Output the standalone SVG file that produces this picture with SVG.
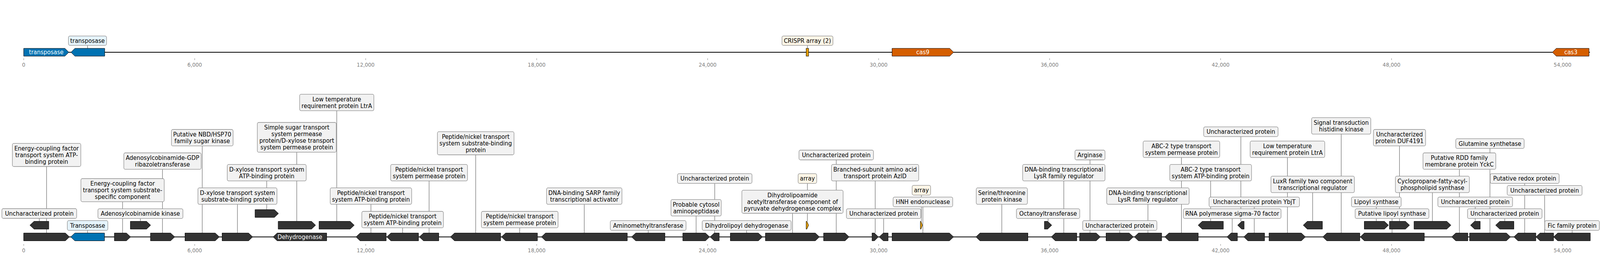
<svg xmlns="http://www.w3.org/2000/svg" width="4277" height="659" viewBox="0 0 4277 659" preserveAspectRatio="none">
<style>
:root{width:100vw;height:100vh;overflow:hidden;display:block}
.bg{fill:#fff}
.gene{fill:#333;stroke:#000;stroke-width:1}
.blue{fill:#0072b2}
.arr{fill:#e69f00}
.cas{fill:#d55e00}
.box{fill:#f2f2f2;stroke:#8c8c8c;stroke-width:1.3}
.bbox{fill:#e6f4fc}
.cbox{fill:#fdf6e7}
text{font-family:"DejaVu Sans","Liberation Sans",sans-serif;font-size:15.2px}
.lt{text-anchor:middle;fill:#000}
.wt{text-anchor:middle;fill:#fff}
.ax{font-size:13.6px;fill:#808080;text-anchor:middle}
.tk{stroke:#808080;stroke-width:1}
.axis{stroke:#000;stroke-width:2;fill:none}
.con path{stroke:#333;stroke-width:0.9;fill:none}
</style>
<rect class="bg" x="0" y="0" width="4277" height="659"/>

<g id="axes">
<path class="axis" d="M63.4,134H4250"/>
<path class="axis" d="M63.3,607.5H4251"/>
<path class="tk" d="M63.4,149.5V154M520.5,149.5V154M977.5,149.5V154M1434.6,149.5V154M1891.6,149.5V154M2348.7,149.5V154M2805.7,149.5V154M3262.8,149.5V154M3719.8,149.5V154M4176.9,149.5V154"/>
<path class="tk" d="M63.4,626V630M520.5,626V630M977.5,626V630M1434.6,626V630M1891.6,626V630M2348.7,626V630M2805.7,626V630M3262.8,626V630M3719.8,626V630M4176.9,626V630"/>
<text class="ax" x="63.4" y="171">0</text><text class="ax" x="520.5" y="171">6,000</text><text class="ax" x="977.5" y="171">12,000</text><text class="ax" x="1434.6" y="171">18,000</text><text class="ax" x="1891.6" y="171">24,000</text><text class="ax" x="2348.7" y="171">30,000</text><text class="ax" x="2805.7" y="171">36,000</text><text class="ax" x="3262.8" y="171">42,000</text><text class="ax" x="3719.8" y="171">48,000</text><text class="ax" x="4176.9" y="171">54,000</text>
<text class="ax" x="63.4" y="647">0</text><text class="ax" x="520.5" y="647">6,000</text><text class="ax" x="977.5" y="647">12,000</text><text class="ax" x="1434.6" y="647">18,000</text><text class="ax" x="1891.6" y="647">24,000</text><text class="ax" x="2348.7" y="647">30,000</text><text class="ax" x="2805.7" y="647">36,000</text><text class="ax" x="3262.8" y="647">42,000</text><text class="ax" x="3719.8" y="647">48,000</text><text class="ax" x="4176.9" y="647">54,000</text>
</g>

<g id="connectors" class="con">
<path d="M234.2,116.3V124M2158.3,116.3V124"/>
<path d="M124.5,427V597.5M105,560V567.5M234.2,590.7V597.5M327.7,517.3V597.5M375.3,560.3V567.5M434.3,434.2V597.5M540.6,374.2V597.5M634.7,523.9V597.5M713,463.9V537.5M793.3,390.5V567.5M900.2,283.9V567.5M991.6,523.9V597.5M1076.3,584.2V597.5M1147,463.9V597.5M1271.6,397V597.5M1389.3,584.2V597.5M1561.8,523.9V597.5M1732.7,590.7V597.5M1860.8,553.9V597.5M1910.6,470.3V597.5M1996,590.7V597.5M2118.5,547V597.5M2158.3,470.3V567.5M2235.4,410V597.5M2339.5,463.9V597.5M2362.1,560.3V597.5M2463,500.3V567.5M2467,530.3V597.5M2678,523.9V597.5M2801.7,560.3V567.5M2843.7,463.9V597.5M2913.7,410V597.5M2993.3,590.7V597.5M3068.6,523.9V597.5M3158.1,403.9V597.5M3236.2,463.9V567.5M3293.8,560.3V597.5M3317,350.3V567.5M3352.8,530.3V597.5M3441.5,403.9V597.5M3508.9,493.9V567.5M3585.2,343.9V597.5M3721.1,560.3V597.5M3679,530.3V567.5M3741,374.2V567.5M3829,493.9V567.5M3901.1,434.2V597.5M3943.4,530.3V567.5M3982.8,380.7V597.5M4022.4,560.3V567.5M4075.7,470.3V597.5M4129,500.7V597.5M4202.5,590.7V597.5"/>
</g>

<g id="top-transposase-1"><polygon class="gene blue" points="63.4,124 173.5,124 184,134 173.5,144 63.4,144"/><text class="wt" x="123.7" y="139.5">transposase</text></g>
<g id="top-transposase-2"><polygon class="gene blue" points="279.9,124 200.2,124 189.7,134 200.2,144 279.9,144"/><rect class="box bbox" x="183" y="92.3" width="101.8" height="24" rx="4"/><text class="lt" x="233.9" y="109.7">transposase</text></g>
<g id="top-crispr"><rect class="gene arr" x="2155" y="124" width="6.5" height="20"/><rect class="box cbox" x="2090.3" y="92.3" width="136.3" height="24" rx="4"/><text class="lt" x="2158.4" y="109.7">CRISPR array (2)</text></g>
<g id="top-cas9"><polygon class="gene cas" points="2384.6,124 2538.7,124 2549.2,134 2538.7,144 2384.6,144"/><text class="wt" x="2466.9" y="139.5">cas9</text></g>
<g id="top-cas3"><polygon class="gene cas" points="4247.7,124 4160.2,124 4149.7,134 4160.2,144 4247.7,144"/><text class="wt" x="4199" y="139.5">cas3</text></g>

<g id="n1"><polygon class="gene" points="63.3,597.5 174.7,597.5 185.7,607.5 174.7,617.5 63.3,617.5"/><rect class="box" x="33" y="367.7" width="183" height="59.3" rx="4"/><text class="lt" x="124.5" y="385.6">Energy-coupling factor<tspan x="124.5" dy="17.15">transport system ATP-</tspan><tspan x="124.5" dy="17.15">binding protein</tspan></text></g>
<g id="n2"><polygon class="gene" points="130.4,567.5 91,567.5 80,577.5 91,587.5 130.4,587.5"/><rect class="box" x="5" y="535" width="200" height="25" rx="4"/><text class="lt" x="105" y="552.9">Uncharacterized protein</text></g>
<g id="n3"><polygon class="gene blue" points="279.3,597.5 200,597.5 189,607.5 200,617.5 279.3,617.5"/><rect class="box bbox" x="180" y="565.7" width="108.3" height="25" rx="4"/><text class="lt" x="234.2" y="583.6">Transposase</text></g>
<g id="n4"><polygon class="gene" points="305.8,597.5 338,597.5 349,607.5 338,617.5 305.8,617.5"/><rect class="box" x="216.3" y="458" width="222.7" height="59.3" rx="4"/><text class="lt" x="327.7" y="475.9">Energy-coupling factor<tspan x="327.7" dy="17.15">transport system substrate-</tspan><tspan x="327.7" dy="17.15">specific component</tspan></text></g>
<g id="n5"><polygon class="gene" points="348.5,567.5 391.7,567.5 402.7,577.5 391.7,587.5 348.5,587.5"/><rect class="box" x="261.7" y="535.3" width="227.3" height="25" rx="4"/><text class="lt" x="375.3" y="553.2">Adenosylcobinamide kinase</text></g>
<g id="n6"><polygon class="gene" points="402.2,597.5 456,597.5 467,607.5 456,617.5 402.2,617.5"/><rect class="box" x="331" y="392" width="206.7" height="42.15" rx="4"/><text class="lt" x="434.3" y="409.9">Adenosylcobinamide-GDP<tspan x="434.3" dy="17.15">ribazoletransferase</tspan></text></g>
<g id="n7"><polygon class="gene" points="494.5,597.5 575.3,597.5 586.3,607.5 575.3,617.5 494.5,617.5"/><rect class="box" x="458.2" y="332" width="164.8" height="42.15" rx="4"/><text class="lt" x="540.6" y="349.9">Putative NBD/HSP70<tspan x="540.6" dy="17.15">family sugar kinase</tspan></text></g>
<g id="n8"><polygon class="gene" points="593.7,597.5 664.4,597.5 675.4,607.5 664.4,617.5 593.7,617.5"/><rect class="box" x="529" y="481.7" width="211.4" height="42.15" rx="4"/><text class="lt" x="634.7" y="499.6">D-xylose transport system<tspan x="634.7" dy="17.15">substrate-binding protein</tspan></text></g>
<g id="n9"><polygon class="gene" points="681.8,537.5 733.5,537.5 744.5,547.5 733.5,557.5 681.8,557.5"/><rect class="box" x="607.4" y="421.7" width="211.1" height="42.15" rx="4"/><text class="lt" x="713" y="439.6">D-xylose transport system<tspan x="713" dy="17.15">ATP-binding protein</tspan></text></g>
<g id="n10"><polygon class="gene" points="743.6,567.5 832.7,567.5 843.7,577.5 832.7,587.5 743.6,587.5"/><rect class="box" x="687.8" y="314" width="211" height="76.45" rx="4"/><text class="lt" x="793.3" y="331.9">Simple sugar transport<tspan x="793.3" dy="17.15">system permease</tspan><tspan x="793.3" dy="17.15">protein/D-xylose transport</tspan><tspan x="793.3" dy="17.15">system permease protein</tspan></text></g>
<g id="n11"><polygon class="gene" points="873.3,597.5 741,597.5 730,607.5 741,617.5 873.3,617.5"/><text class="wt" x="801.7" y="613.1">Dehydrogenase</text></g>
<g id="n12"><polygon class="gene" points="852.9,567.5 936,567.5 947,577.5 936,587.5 852.9,587.5"/><rect class="box" x="801" y="241.7" width="198.4" height="42.15" rx="4"/><text class="lt" x="900.2" y="259.6">Low temperature<tspan x="900.2" dy="17.15">requirement protein LtrA</tspan></text></g>
<g id="n13"><polygon class="gene" points="1032.4,597.5 962.6,597.5 951.6,607.5 962.6,617.5 1032.4,617.5"/><rect class="box" x="882.7" y="481.7" width="217.7" height="42.15" rx="4"/><text class="lt" x="991.6" y="499.6">Peptide/nickel transport<tspan x="991.6" dy="17.15">system ATP-binding protein</tspan></text></g>
<g id="n14"><polygon class="gene" points="1118.7,597.5 1044.8,597.5 1033.8,607.5 1044.8,617.5 1118.7,617.5"/><rect class="box" x="967.2" y="542" width="218.1" height="42.15" rx="4"/><text class="lt" x="1076.3" y="559.9">Peptide/nickel transport<tspan x="1076.3" dy="17.15">system ATP-binding protein</tspan></text></g>
<g id="n15"><polygon class="gene" points="1172.9,597.5 1132,597.5 1121,607.5 1132,617.5 1172.9,617.5"/><rect class="box" x="1044.3" y="421.7" width="205.3" height="42.15" rx="4"/><text class="lt" x="1147" y="439.6">Peptide/nickel transport<tspan x="1147" dy="17.15">system permease protein</tspan></text></g>
<g id="n16"><polygon class="gene" points="1338.2,597.5 1215,597.5 1204,607.5 1215,617.5 1338.2,617.5"/><rect class="box" x="1169.2" y="337.7" width="204.8" height="59.3" rx="4"/><text class="lt" x="1271.6" y="355.6">Peptide/nickel transport<tspan x="1271.6" dy="17.15">system substrate-binding</tspan><tspan x="1271.6" dy="17.15">protein</tspan></text></g>
<g id="n17"><polygon class="gene" points="1436.7,597.5 1351.5,597.5 1340.5,607.5 1351.5,617.5 1436.7,617.5"/><rect class="box" x="1286.8" y="542" width="205" height="42.15" rx="4"/><text class="lt" x="1389.3" y="559.9">Peptide/nickel transport<tspan x="1389.3" dy="17.15">system permease protein</tspan></text></g>
<g id="n18"><polygon class="gene" points="1676.9,597.5 1458.3,597.5 1447.3,607.5 1458.3,617.5 1676.9,617.5"/><rect class="box" x="1461" y="481.7" width="201.6" height="42.15" rx="4"/><text class="lt" x="1561.8" y="499.6">DNA-binding SARP family<tspan x="1561.8" dy="17.15">transcriptional activator</tspan></text></g>
<g id="n19"><polygon class="gene" points="1777.4,597.5 1699.3,597.5 1688.3,607.5 1699.3,617.5 1777.4,617.5"/><rect class="box" x="1631.4" y="565.7" width="202.5" height="25" rx="4"/><text class="lt" x="1732.7" y="583.6">Aminomethyltransferase</text></g>
<g id="n20"><polygon class="gene" points="1825.2,597.5 1885.8,597.5 1896.8,607.5 1885.8,617.5 1825.2,617.5"/><rect class="box" x="1793.5" y="511.7" width="134.5" height="42.15" rx="4"/><text class="lt" x="1860.8" y="529.6">Probable cytosol<tspan x="1860.8" dy="17.15">aminopeptidase</tspan></text></g>
<g id="n21"><polygon class="gene" points="1922.5,597.5 1909.2,597.5 1898.2,607.5 1909.2,617.5 1922.5,617.5"/><rect class="box" x="1811" y="445.3" width="199.2" height="25" rx="4"/><text class="lt" x="1910.6" y="463.2">Uncharacterized protein</text></g>
<g id="n22"><polygon class="gene" points="1952.3,597.5 2027.2,597.5 2038.2,607.5 2027.2,617.5 1952.3,617.5"/><rect class="box" x="1877" y="565.7" width="237.9" height="25" rx="4"/><text class="lt" x="1996" y="583.6">Dihydrolipoyl dehydrogenase</text></g>
<g id="n23"><polygon class="gene" points="2046,597.5 2179.4,597.5 2190.4,607.5 2179.4,617.5 2046,617.5"/><rect class="box" x="1983.1" y="487.7" width="270.7" height="59.3" rx="4"/><text class="lt" x="2118.5" y="505.6">Dihydrolipoamide<tspan x="2118.5" dy="17.15">acetyltransferase component of</tspan><tspan x="2118.5" dy="17.15">pyruvate dehydrogenase complex</tspan></text></g>
<g id="n24"><polygon class="gene arr" points="2155,567.5 2156.8,567.5 2161.5,577.5 2156.8,587.5 2155,587.5"/><rect class="box cbox" x="2133.5" y="445.3" width="49.6" height="25" rx="4"/><text class="lt" x="2158.3" y="463.2">array</text></g>
<g id="n25"><polygon class="gene" points="2201.5,597.5 2258.9,597.5 2269.9,607.5 2258.9,617.5 2201.5,617.5"/><rect class="box" x="2135.8" y="385" width="199.2" height="25" rx="4"/><text class="lt" x="2235.4" y="402.9">Uncharacterized protein</text></g>
<g id="n26"><polygon class="gene" points="2331,597.5 2337.5,597.5 2348,607.5 2337.5,617.5 2331,617.5"/><rect class="box" x="2222.6" y="421.7" width="233.2" height="42.15" rx="4"/><text class="lt" x="2339.2" y="439.6">Branched-subunit amino acid<tspan x="2339.2" dy="17.15">transport protein AzlD</tspan></text></g>
<g id="n27"><polygon class="gene" points="2374.1,597.5 2361.2,597.5 2350.2,607.5 2361.2,617.5 2374.1,617.5"/><rect class="box" x="2262.5" y="535.3" width="199.2" height="25" rx="4"/><text class="lt" x="2362.1" y="553.2">Uncharacterized protein</text></g>
<g id="n28"><polygon class="gene arr" points="2460.3,567.5 2461.9,567.5 2465.7,577.5 2461.9,587.5 2460.3,587.5"/><rect class="box cbox" x="2438.3" y="475.3" width="49.4" height="25" rx="4"/><text class="lt" x="2463" y="493.2">array</text></g>
<g id="n29"><polygon class="gene" points="2384.7,597.5 2538,597.5 2549,607.5 2538,617.5 2384.7,617.5"/><rect class="box" x="2387.4" y="505.3" width="159.3" height="25" rx="4"/><text class="lt" x="2467" y="523.2">HNH endonuclease</text></g>
<g id="n30"><polygon class="gene" points="2747.8,597.5 2619.7,597.5 2608.7,607.5 2619.7,617.5 2747.8,617.5"/><rect class="box" x="2609.6" y="481.7" width="136.9" height="42.15" rx="4"/><text class="lt" x="2678" y="499.6">Serine/threonine<tspan x="2678" dy="17.15">protein kinase</tspan></text></g>
<g id="n31"><polygon class="gene" points="2791.9,567.5 2800.5,567.5 2811.5,577.5 2800.5,587.5 2791.9,587.5"/><rect class="box" x="2717" y="535.3" width="169.3" height="25" rx="4"/><text class="lt" x="2801.7" y="553.2">Octanoyltransferase</text></g>
<g id="n32"><polygon class="gene" points="2878.5,597.5 2821.1,597.5 2810.1,607.5 2821.1,617.5 2878.5,617.5"/><rect class="box" x="2733.6" y="421.7" width="220.2" height="42.15" rx="4"/><text class="lt" x="2843.7" y="439.6">DNA-binding transcriptional<tspan x="2843.7" dy="17.15">LysR family regulator</tspan></text></g>
<g id="n33"><polygon class="gene" points="2885.9,597.5 2930.4,597.5 2941.4,607.5 2930.4,617.5 2885.9,617.5"/><rect class="box" x="2873.5" y="385" width="80.3" height="25" rx="4"/><text class="lt" x="2913.7" y="402.9">Arginase</text></g>
<g id="n34"><polygon class="gene" points="2956.6,597.5 3018.6,597.5 3029.6,607.5 3018.6,617.5 2956.6,617.5"/><rect class="box" x="2894.1" y="565.7" width="198.4" height="25" rx="4"/><text class="lt" x="2993.3" y="583.6">Uncharacterized protein</text></g>
<g id="n35"><polygon class="gene" points="3105.3,597.5 3043.3,597.5 3032.3,607.5 3043.3,617.5 3105.3,617.5"/><rect class="box" x="2958.4" y="481.7" width="220.4" height="42.15" rx="4"/><text class="lt" x="3068.6" y="499.6">DNA-binding transcriptional<tspan x="3068.6" dy="17.15">LysR family regulator</tspan></text></g>
<g id="n36"><polygon class="gene" points="3203.1,597.5 3124.6,597.5 3113.6,607.5 3124.6,617.5 3203.1,617.5"/><rect class="box" x="3055.7" y="361.7" width="204.8" height="42.15" rx="4"/><text class="lt" x="3158.1" y="379.6">ABC-2 type transport<tspan x="3158.1" dy="17.15">system permease protein</tspan></text></g>
<g id="n37"><polygon class="gene" points="3270.2,567.5 3213.7,567.5 3202.7,577.5 3213.7,587.5 3270.2,587.5"/><rect class="box" x="3126.9" y="421.7" width="218.6" height="42.15" rx="4"/><text class="lt" x="3236.2" y="439.6">ABC-2 type transport<tspan x="3236.2" dy="17.15">system ATP-binding protein</tspan></text></g>
<g id="n38"><polygon class="gene" points="3307.8,597.5 3290.8,597.5 3279.8,607.5 3290.8,617.5 3307.8,617.5"/><rect class="box" x="3163.2" y="535.3" width="261.2" height="25" rx="4"/><text class="lt" x="3293.8" y="553.2">RNA polymerase sigma-70 factor</text></g>
<g id="n39"><polygon class="gene" points="3325.7,567.5 3319.3,567.5 3308.3,577.5 3319.3,587.5 3325.7,587.5"/><rect class="box" x="3217.6" y="325.3" width="198.8" height="25" rx="4"/><text class="lt" x="3317" y="343.2">Uncharacterized protein</text></g>
<g id="n40"><polygon class="gene" points="3380.3,597.5 3335.8,597.5 3324.8,607.5 3335.8,617.5 3380.3,617.5"/><rect class="box" x="3232" y="505.3" width="241.6" height="25" rx="4"/><text class="lt" x="3352.8" y="523.2">Uncharacterized protein YbjT</text></g>
<g id="n41"><polygon class="gene" points="3392.3,597.5 3478.6,597.5 3489.6,607.5 3478.6,617.5 3392.3,617.5"/><rect class="box" x="3341.8" y="361.7" width="199.5" height="42.15" rx="4"/><text class="lt" x="3441.5" y="379.6">Low temperature<tspan x="3441.5" dy="17.15">requirement protein LtrA</tspan></text></g>
<g id="n42"><polygon class="gene" points="3534.9,567.5 3494.6,567.5 3483.6,577.5 3494.6,587.5 3534.9,587.5"/><rect class="box" x="3397.3" y="451.7" width="223.2" height="42.15" rx="4"/><text class="lt" x="3508.9" y="469.6">LuxR family two component<tspan x="3508.9" dy="17.15">transcriptional regulator</tspan></text></g>
<g id="n43"><polygon class="gene" points="3635,597.5 3546.9,597.5 3535.9,607.5 3546.9,617.5 3635,617.5"/><rect class="box" x="3506" y="301.7" width="158.3" height="42.15" rx="4"/><text class="lt" x="3585.2" y="319.6">Signal transduction<tspan x="3585.2" dy="17.15">histidine kinase</tspan></text></g>
<g id="n44"><polygon class="gene" points="3807.3,597.5 3647,597.5 3636,607.5 3647,617.5 3807.3,617.5"/><rect class="box" x="3622.5" y="535.3" width="197.2" height="25" rx="4"/><text class="lt" x="3721.1" y="553.2">Putative lipoyl synthase</text></g>
<g id="n45"><polygon class="gene" points="3646.9,567.5 3700.7,567.5 3711.7,577.5 3700.7,587.5 3646.9,587.5"/><rect class="box" x="3612.5" y="505.3" width="133" height="25" rx="4"/><text class="lt" x="3679" y="523.2">Lipoyl synthase</text></g>
<g id="n46"><polygon class="gene" points="3714.1,567.5 3756.9,567.5 3767.9,577.5 3756.9,587.5 3714.1,587.5"/><rect class="box" x="3671.3" y="332" width="139.5" height="42.15" rx="4"/><text class="lt" x="3741" y="349.9">Uncharacterized<tspan x="3741" dy="17.15">protein DUF4191</tspan></text></g>
<g id="n47"><polygon class="gene" points="3779.9,567.5 3867.5,567.5 3878.5,577.5 3867.5,587.5 3779.9,587.5"/><rect class="box" x="3730.1" y="451.7" width="197.7" height="42.15" rx="4"/><text class="lt" x="3829" y="469.6">Cyclopropane-fatty-acyl-<tspan x="3829" dy="17.15">phospholipid synthase</tspan></text></g>
<g id="n48"><polygon class="gene" points="3923.8,597.5 3891.5,597.5 3880.5,607.5 3891.5,617.5 3923.8,617.5"/><rect class="box" x="3803.8" y="392" width="194.7" height="42.15" rx="4"/><text class="lt" x="3901.1" y="409.9">Putative RDD family<tspan x="3901.1" dy="17.15">membrane protein YckC</tspan></text></g>
<g id="n49"><polygon class="gene" points="3956.7,567.5 3941.8,567.5 3930.8,577.5 3941.8,587.5 3956.7,587.5"/><rect class="box" x="3843.6" y="505.3" width="199.7" height="25" rx="4"/><text class="lt" x="3943.4" y="523.2">Uncharacterized protein</text></g>
<g id="n50"><polygon class="gene" points="3928.3,597.5 4026.8,597.5 4037.8,607.5 4026.8,617.5 3928.3,617.5"/><rect class="box" x="3891.4" y="355.7" width="182.8" height="25" rx="4"/><text class="lt" x="3982.8" y="373.6">Glutamine synthetase</text></g>
<g id="n51"><polygon class="gene" points="4046.8,567.5 4009,567.5 3998,577.5 4009,587.5 4046.8,587.5"/><rect class="box" x="3922.8" y="535.3" width="199.2" height="25" rx="4"/><text class="lt" x="4022.4" y="553.2">Uncharacterized protein</text></g>
<g id="n52"><polygon class="gene" points="4105.6,597.5 4057.8,597.5 4046.8,607.5 4057.8,617.5 4105.6,617.5"/><rect class="box" x="3983.6" y="445.3" width="184.2" height="25" rx="4"/><text class="lt" x="4075.7" y="463.2">Putative redox protein</text></g>
<g id="n53"><polygon class="gene" points="4152.9,597.5 4116.6,597.5 4105.6,607.5 4116.6,617.5 4152.9,617.5"/><rect class="box" x="4028.9" y="475.7" width="200.2" height="25" rx="4"/><text class="lt" x="4129" y="493.6">Uncharacterized protein</text></g>
<g id="n54"><polygon class="gene" points="4251,597.5 4163.9,597.5 4152.9,607.5 4163.9,617.5 4251,617.5"/><rect class="box" x="4129.5" y="565.7" width="145.9" height="25" rx="4"/><text class="lt" x="4202.5" y="583.6">Fic family protein</text></g>
</svg>
